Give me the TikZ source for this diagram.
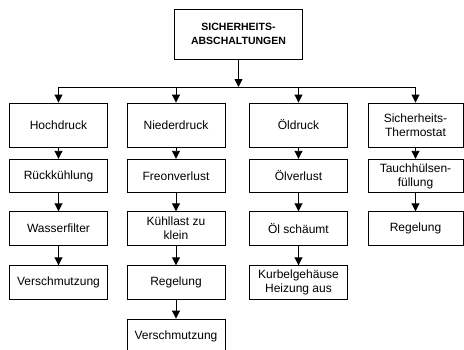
\documentclass[tikz,border=0pt]{standalone}
\usepackage{fontspec}
\setmainfont{Liberation Sans}
\usetikzlibrary{arrows.meta}
\tikzset{
  box/.style={draw=black, line width=0.9pt, rectangle, minimum width=98pt, align=center, inner sep=1pt, font=\fontsize{12}{14}\selectfont},
  tall/.style={box, minimum height=44pt},
  low/.style={box, minimum height=33.5pt},
  titlebox/.style={draw=black, line width=0.9pt, rectangle, minimum width=128pt, minimum height=50pt, align=center, font=\fontsize{10.5}{13.5}\selectfont\bfseries},
  arr/.style={line width=0.9pt, -{Triangle[length=8pt,width=8pt]}},
  ln/.style={line width=0.9pt}
}
\begin{document}
\begin{tikzpicture}[x=1pt,y=-1pt]
\useasboundingbox (0,0) rectangle (464,349);
\node[titlebox] (top) at (238.5,34) {SICHERHEITS-\\ABSCHALTUNGEN};
\coordinate (bus) at (238.5,87);
% row 1
\node[tall] (h1) at (58.5,125) {Hochdruck};
\node[tall] (n1) at (176,125) {Niederdruck};
\node[tall] (o1) at (298.5,125) {Öldruck};
\node[tall, minimum width=95pt] (s1) at (415.5,125) {Sicherheits-\\Thermostat};
% row 2
\node[low] (h2) at (58.5,176) {Rückkühlung};
\node[low] (n2) at (176,176) {Freonverlust};
\node[low] (o2) at (298.5,176) {Ölverlust};
\node[low, minimum width=95pt] (s2) at (415.5,176) {Tauchhülsen-\\füllung};
% row 3
\node[low] (h3) at (58.5,228.5) {Wasserfilter};
\node[low] (n3) at (176,228.5) {Kühllast zu\\klein};
\node[low] (o3) at (298.5,228.5) {Öl schäumt};
\node[low, minimum width=95pt] (s3) at (415.5,228.5) {Regelung};
% row 4
\node[low] (h4) at (58.5,282.5) {Verschmutzung};
\node[low] (n4) at (176,282.5) {Regelung};
\node[low] (o4) at (298.5,282.5) {Kurbelgehäuse\\Heizung aus};
% row 5
\node[low, minimum height=34pt] (n5) at (176,336) {Verschmutzung};
% connectors
\draw[arr] (top.south) -- (bus);
\draw[ln] (h1.north |- bus) -- (s1.north |- bus);
\draw[arr] (h1.north |- bus) -- (h1.north);
\draw[arr] (n1.north |- bus) -- (n1.north);
\draw[arr] (o1.north |- bus) -- (o1.north);
\draw[arr] (s1.north |- bus) -- (s1.north);
\draw[arr] (h1) -- (h2);
\draw[arr] (h2) -- (h3);
\draw[arr] (h3) -- (h4);
\draw[arr] (n1) -- (n2);
\draw[arr] (n2) -- (n3);
\draw[arr] (n3) -- (n4);
\draw[arr] (n4) -- (n5);
\draw[arr] (o1) -- (o2);
\draw[arr] (o2) -- (o3);
\draw[arr] (o3) -- (o4);
\draw[arr] (s1) -- (s2);
\draw[arr] (s2) -- (s3);
\end{tikzpicture}
\end{document}
